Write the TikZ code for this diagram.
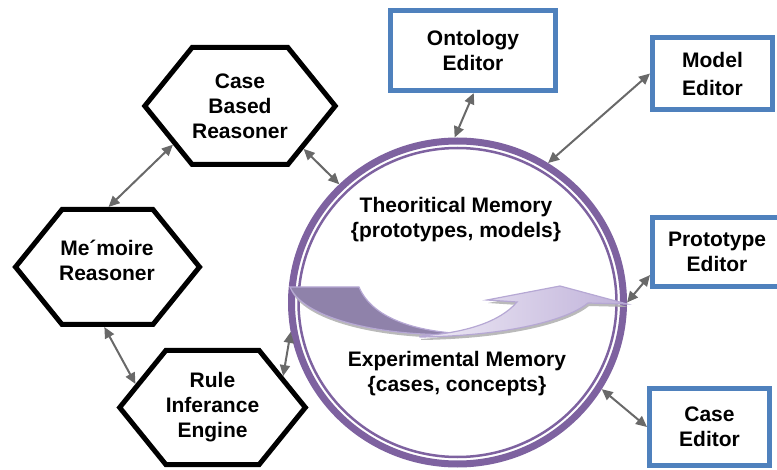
\documentclass[tikz,border=0pt]{standalone}
\usepackage{fontspec}
\setmainfont{Liberation Sans}
\usetikzlibrary{arrows.meta, positioning, shapes.geometric, shapes.symbols, shadows}
\definecolor{ringpurple}{RGB}{126,98,160}
\definecolor{boxblue}{RGB}{79,129,189}
\definecolor{linkgray}{RGB}{105,105,105}
\definecolor{bandback}{RGB}{143,130,170}
\definecolor{bandedge}{RGB}{182,168,212}
\definecolor{bandlight}{RGB}{238,234,245}
\definecolor{banddark}{RGB}{192,178,218}

\begin{document}
\begin{tikzpicture}[x=1pt, y=-1pt,
  font=\fontsize{21}{25}\selectfont\bfseries,
  hexbox/.style={signal, signal to=west and east, signal pointer angle=102, draw=black, line width=5pt, align=center, inner sep=0pt},
  editor/.style={rectangle, draw=boxblue, line width=5pt, align=center, inner sep=0pt},
  link/.style={{Triangle[length=11pt,width=10pt]}-{Triangle[length=11pt,width=10pt]}, draw=linkgray, line width=2pt},
  band/.style={draw=bandedge, line width=1.2pt, drop shadow={shadow xshift=1pt, shadow yshift=-3pt, fill=gray!60, opacity=0.9}},
]
\clip (0,0) rectangle (777,470);

% Memory ring
\node[ellipse, draw=ringpurple, line width=7pt, minimum width=332pt, minimum height=323pt] (ring) at (457.5,302.5) {};
\draw[ringpurple, line width=2.5pt] (ring.center) ellipse [x radius=159, y radius=154.5];

% Curved arrow inside the ring
\path[band, fill=bandback] (290,287) -- (359,287) .. controls (372,318) and (415,332) .. (468,334)
  .. controls (395,338) and (305,322) .. (290,287) -- cycle;
\path[band, left color=bandlight, right color=banddark] (420,337) .. controls (500,336) and (565,322) .. (588,303)
  -- (627,304) -- (560,286) -- (487,300) -- (517,302) .. controls (500,322) and (465,333) .. (420,336) -- cycle;

\node[align=center] (theo) at (456,220) {Theoritical Memory\\\{prototypes, models\}};
\node[align=center] (expe) at (457,374) {Experimental Memory\\\{cases, concepts\}};

% Reasoners
\node[hexbox, minimum width=171pt, minimum height=117pt] (cbr) at (240,106) {Case\\Based\\Reasoner};
\node[hexbox, minimum width=184pt, minimum height=115pt] (memr) at (107.5,267) {};
\node[align=center] (memrtext) at (107,260) {Me´moire\\Reasoner};
\node[hexbox, minimum width=180pt, minimum height=114pt] (rie) at (212.5,407.5) {Rule\\Inferance\\Engine};

% Editors
\node[editor, minimum width=165pt, minimum height=80pt] (onto) at (473,50.5) {Ontology\\Editor};
\node[editor, minimum width=120pt, minimum height=72pt, font=\fontsize{21}{28}\selectfont\bfseries] (model) at (712.5,73.5) {Model\\Editor};
\node[editor, minimum width=129pt, minimum height=69pt] (proto) at (717,252) {Prototype\\Editor};
\node[editor, minimum width=120pt, minimum height=77pt] (caseed) at (709.5,427) {Case\\Editor};

% Arrows
\draw[link] (cbr.210) -- (memr.89);
\draw[link] (memr.267) -- (rie.163);
\draw[link] (cbr.-34) -- (ring.135);
\draw[link] (rie.24) -- (ring.190);
\draw[link] (onto.-89) -- (ring.91);
\draw[link] (model.west) -- (ring.57);
\draw[link] (proto.199) -- (ring.0);
\draw[link] (caseed.west) -- (ring.-31);
\end{tikzpicture}
\end{document}
